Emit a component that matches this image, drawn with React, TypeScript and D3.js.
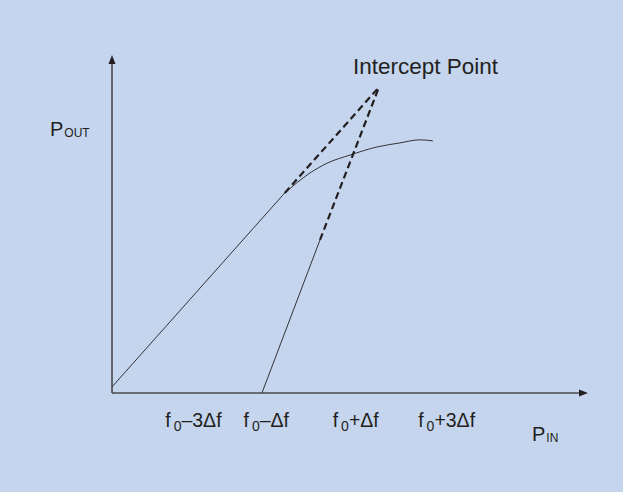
import React from 'react';
import * as d3 from 'd3';

const W = 623;
const H = 492;

// Curves in arbitrary power units (P_IN on x, P_OUT on y), 0..100 on both axes
const fundamentalLinear: [number, number][] = [[0, 1.8], [36.3, 59.2]];
const fundamentalCompressed: [number, number][] = [
  [36.3, 59.2], [41.6, 65.1], [45.2, 68.0], [50.0, 70.4], [55.7, 72.8], [60.5, 74.0], [64.7, 74.9], [67.4, 74.6],
];
const thirdOrderSolid: [number, number][] = [[31.5, 0], [43.7, 45.3]];
const fundamentalExtrapolated: [number, number][] = [[36.3, 59.2], [56.1, 90.5]];
const thirdOrderExtrapolated: [number, number][] = [[43.7, 45.3], [56.1, 90.5]];

const tickOffsets = ['–3Δf', '–Δf', '+Δf', '+3Δf'];
const tickPositions = [17.1, 32.4, 51.2, 70.3];

const interceptLabel = 'Intercept Point';

export default function App() {
  const x = d3.scaleLinear().domain([0, 100]).range([112, 588]);
  const y = d3.scaleLinear().domain([0, 100]).range([393, 55]);
  const straight = d3.line<[number, number]>().x(d => x(d[0])).y(d => y(d[1]));
  const smooth = d3.line<[number, number]>().x(d => x(d[0])).y(d => y(d[1])).curve(d3.curveMonotoneX);

  const x0 = x(0), y0 = y(0), xEnd = x(100), yEnd = y(100);
  const font = "'Liberation Sans', Arial, Helvetica, sans-serif";
  const ink = '#231f20';

  return (
    <div style={{ position: 'fixed', left: 0, top: 0, width: W, height: H }}>
      <svg width={W} height={H} viewBox={`0 0 ${W} ${H}`} style={{ display: 'block' }}>
        <rect x={0} y={0} width={W} height={H} fill="#c5d5ee" />
        {/* axes */}
        <line x1={x0} y1={y0} x2={x0} y2={yEnd + 6} stroke="#4a4a4a" strokeWidth={1.6} />
        <path d={`M${x0},${yEnd} L${x0 - 3.5},${yEnd + 9} L${x0 + 3.5},${yEnd + 9} Z`} fill={ink} />
        <line x1={x0} y1={y0} x2={xEnd - 6} y2={y0} stroke="#4a4a4a" strokeWidth={1.4} />
        <path d={`M${xEnd},${y0} L${xEnd - 9},${y0 - 3.5} L${xEnd - 9},${y0 + 3.5} Z`} fill={ink} />

        {/* curves */}
        <path d={straight(fundamentalLinear) || ''} fill="none" stroke="#333" strokeWidth={1} />
        <path d={smooth(fundamentalCompressed) || ''} fill="none" stroke="#333" strokeWidth={1} />
        <path d={straight(thirdOrderSolid) || ''} fill="none" stroke="#333" strokeWidth={1} />
        <path d={straight(fundamentalExtrapolated) || ''} fill="none" stroke={ink} strokeWidth={2.2} strokeDasharray="7 4" />
        <path d={straight(thirdOrderExtrapolated) || ''} fill="none" stroke={ink} strokeWidth={2.2} strokeDasharray="7 4" />

        {/* labels */}
        <text x={353} y={74} fontFamily={font} fontSize={22.5} fill={ink}>{interceptLabel}</text>

        <text x={50} y={136} fontFamily={font} fontSize={20} fill={ink}>
          P<tspan fontSize={12} dx={1} dy={1}>OUT</tspan>
        </text>
        <text x={532} y={441} fontFamily={font} fontSize={20} fill={ink}>
          P<tspan fontSize={12} dx={1} dy={1}>IN</tspan>
        </text>

        {tickOffsets.map((t, i) => (
          <text key={t} x={x(tickPositions[i])} y={427} textAnchor="middle" fontFamily={font} fontSize={19.5} fill={ink}>
            f<tspan fontSize={14} dx={3} dy={4}>0</tspan><tspan dy={-4}>{t}</tspan>
          </text>
        ))}
      </svg>
    </div>
  );
}
